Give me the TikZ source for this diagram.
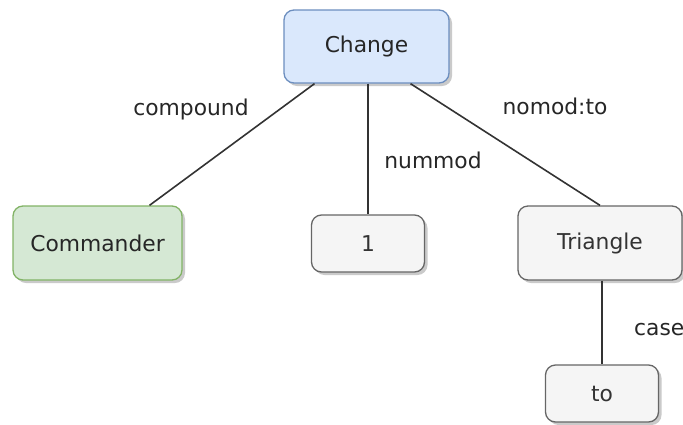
\documentclass[tikz,border=0pt]{standalone}
\usepackage{fontspec}
\setmainfont{DejaVu Sans}
\usetikzlibrary{shadows}
\definecolor{blueFill}{HTML}{DAE8FC}
\definecolor{blueLine}{HTML}{6C8EBF}
\definecolor{greenFill}{HTML}{D5E8D4}
\definecolor{greenLine}{HTML}{82B366}
\definecolor{greyFill}{HTML}{F5F5F5}
\definecolor{greyLine}{HTML}{666666}
\definecolor{greyText}{HTML}{333333}
\tikzset{
  x=1pt, y=-1pt,
  word/.style={rounded corners=10pt, line width=1.3pt, inner sep=0pt,
    font=\fontsize{21.8}{26}\selectfont,
    drop shadow={shadow xshift=3pt, shadow yshift=-3pt, opacity=0.35, fill=black!60}},
  headword/.style={word, draw=blueLine, fill=blueFill, text=black!85},
  compword/.style={word, draw=greenLine, fill=greenFill, text=black!85},
  plainword/.style={word, draw=greyLine, fill=greyFill, text=greyText},
  dep/.style={line width=1.6pt, draw=black!80},
  rel/.style={font=\fontsize{21.8}{26}\selectfont, text=black!85, inner sep=0pt},
}
\begin{document}
\begin{tikzpicture}
\useasboundingbox (0,0) rectangle (683,424);
% words of the sentence
\node[headword, minimum width=165pt, minimum height=73pt] (change) at (366.5,46.5) {Change};
\node[compword, minimum width=169pt, minimum height=74pt] (commander) at (97.5,243) {Commander};
\node[plainword, minimum width=113pt, minimum height=57pt] (one) at (368,243.5) {1};
\node[plainword, minimum width=164pt, minimum height=74pt] (triangle) at (600,243) {Triangle};
\node[plainword, minimum width=113pt, minimum height=57pt] (to) at (602,393.5) {to};
% attachment points of the dependency arcs
\coordinate (cL) at ([xshift=-52pt]change.south);
\coordinate (cR) at ([xshift=44pt]change.south);
\coordinate (cM) at (one.north |- change.south);
\coordinate (tB) at (to.north |- triangle.south);
\coordinate (cmTop) at ([xshift=52pt]commander.north);
% dependency arcs
\draw[dep] (cL) -- (cmTop);
\draw[dep] (cM) -- (one.north);
\draw[dep] (cR) -- (triangle.north);
\draw[dep] (tB) -- (to.north);
% relation labels
\node[rel] (lcompound) at (191,109) {compound};
\node[rel] (lnummod) at (433,160) {nummod};
\node[rel] (lnmod) at (555,106) {nomod:to};
\node[rel, anchor=west] (lcase) at (634,330) {case};
\end{tikzpicture}
\end{document}
